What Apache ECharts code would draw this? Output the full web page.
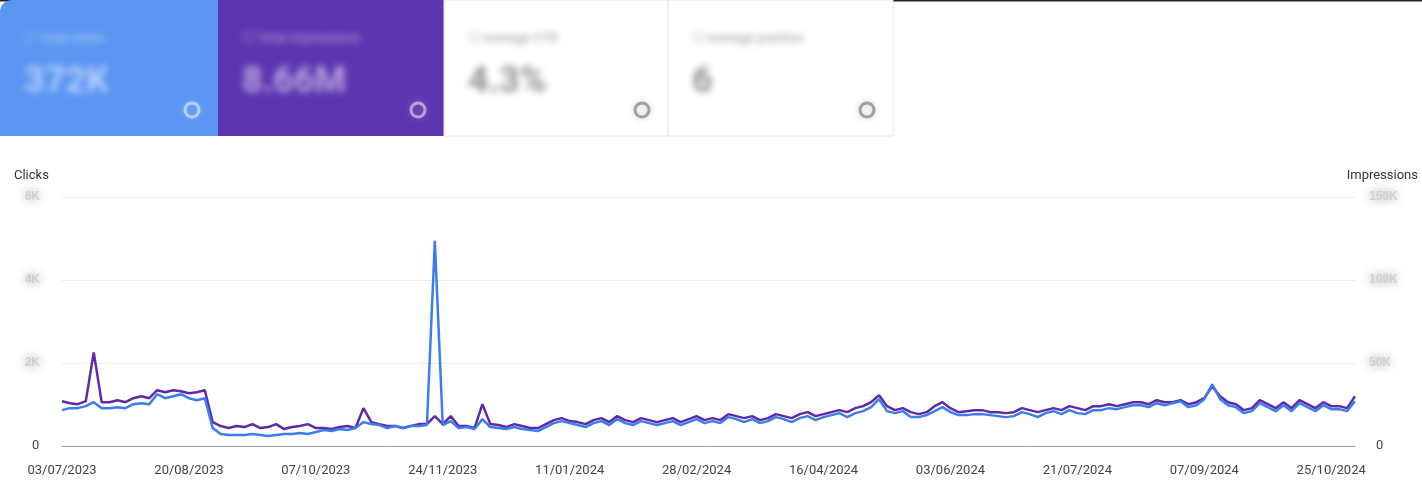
<!DOCTYPE html>
<html><head><meta charset="utf-8">
<script src="https://cdn.jsdelivr.net/npm/echarts@6/dist/echarts.min.js"></script>
<style>html,body{margin:0;padding:0;background:#fff}
#wrap{position:relative;width:1422px;height:488px}
#c{width:1422px;height:488px}
.ct{position:absolute;font-family:Roboto,sans-serif;filter:blur(3.5px);pointer-events:none}
.ct .t{font-size:13px}
.ct .v{font-size:36px;font-weight:bold;margin-top:14px}
</style>
</head><body><div id="wrap"><div id="c"></div></div>
<script>
// one point every 3 days starting 03/07/2023
const startDate = [2023, 6, 3];
const stepDays = 3;
const clicks = [864,912,912,960,1056,
912,912,936,912,1008,1032,1008,1248,1152,1200,1248,1152,1104,1152,
432,288,264,264,264,288,264,240,264,288,288,312,288,336,384,360,408,384,432,
576,
528,504,432,480,432,480,480,504,
4944,
504,600,432,456,408,648,456,432,408,456,408,384,360,
456,552,600,552,504,456,552,600,504,648,552,504,600,552,504,
552,600,504,576,648,552,600,552,696,648,576,648,552,600,696,
648,576,672,720,624,696,744,792,696,792,840,936,
1128,
840,792,840,696,696,744,840,936,816,744,744,768,
768,744,720,696,720,816,768,696,792,840,768,864,792,768,864,
864,912,888,936,984,984,936,1032,984,1032,1080,936,984,1128,1488,
1128,984,936,792,840,1032,936,840,984,840,1032,936,840,984,888,888,840,1080];
const impressionsK = [27,25.8,25.2,27,56.4,
26.4,26.4,27.6,26.4,28.8,30,28.8,33.6,32.4,33.6,33,31.8,32.4,33.6,
14.4,12,10.8,12,11.4,13.2,10.8,11.4,13.2,10.2,11.4,12,13.2,10.8,10.8,10.2,11.4,12,10.8,
22.8,
14.4,13.2,12,12,10.8,12,13.2,13.2,
18,
13.2,18,12,12,10.8,25.2,13.2,12.6,11.4,13.2,12,10.8,10.8,
13.2,15.6,16.8,15,14.4,13.2,15.6,16.8,14.4,18,15.6,14.4,16.8,15.6,14.4,
15.6,16.8,14.4,16.2,18,15.6,16.8,15.6,19.2,18,16.8,18,15.6,16.8,19.2,
18,16.8,19.2,20.4,18,19.2,20.4,21.6,20.4,22.8,24,26.4,
30.6,
24,21.6,22.8,20.4,19.2,20.4,24,26.4,22.8,20.4,21,21.6,
21.6,20.4,20.4,19.8,20.4,22.8,21.6,20.4,21.6,22.8,21.6,24,22.8,21.6,24,
24,25.2,24,25.2,26.4,26.4,25.2,27.6,26.4,26.4,27.6,25.2,26.4,28.8,36,
30,26.4,25.2,21.6,22.8,27.6,25.2,22.8,26.4,22.8,27.6,25.2,22.8,26.4,24,24,22.8,30];
const clickTicks = ['0','2K','4K','6K'];
const imprTicks = ['0','50K','100K','150K'];
const cards = [
  {title:'Total clicks', value:'372K'},
  {title:'Total impressions', value:'8.66M'},
  {title:'Average CTR', value:'4.3%'},
  {title:'Average position', value:'6'}
];

const pad = n => (n<10?'0':'')+n;
const dates = clicks.map((_, i) => {
  const d = new Date(startDate[0], startDate[1], startDate[2] + i*stepDays);
  return pad(d.getDate())+'/'+pad(d.getMonth()+1)+'/'+d.getFullYear();
});

const cardX = [0,218,444,668], cardW = [218,226,224,225];
const cardBg = ['#5b96f3','#5e35b1','#ffffff','#ffffff'];
const graphic = [
  {type:'rect', shape:{x:0,y:0,width:1422,height:1.5}, style:{fill:'#222'}}
];
const wrap = document.getElementById('wrap');
cards.forEach((c,k)=>{
  const light = k<2;
  graphic.push({type:'rect', shape:{x:cardX[k],y:0,width:cardW[k],height:136, r:k===0?[12,0,0,0]:0},
    style:{fill:cardBg[k], stroke: light?null:'#e6e6e6', lineWidth:1}});
  const sh = light ? 'rgba(255,255,255,0.5)' : 'rgba(110,110,110,0.6)';
  graphic.push({type:'circle', shape:{cx:cardX[k]+cardW[k]-26, cy:110, r:7}, style:{fill:'none', stroke:sh, lineWidth:3, shadowColor:sh, shadowBlur:6}});
  const d = document.createElement('div');
  d.className='ct';
  d.style.left=(cardX[k]+24)+'px'; d.style.top='30px';
  d.style.color = light ? 'rgba(255,255,255,0.55)' : 'rgba(100,100,100,0.7)';
  d.innerHTML = '<div class="t">☐ '+c.title+'</div><div class="v">'+c.value+'</div>';
  wrap.appendChild(d);
});
graphic.push({type:'text', left:14, top:169, style:{text:'Clicks', fill:'#333', font:'13px Roboto'}});
graphic.push({type:'text', right:4, top:169, style:{text:'Impressions', fill:'#333', font:'13px Roboto'}});
graphic.push({type:'text', left:32, top:439, style:{text:'0', fill:'#444', font:'13px Roboto'}});
graphic.push({type:'text', left:1376, top:439, style:{text:'0', fill:'#444', font:'13px Roboto'}});

const blurLabel = (ticks, step) => ({
  color:'rgba(205,205,205,0.9)', fontSize:12, fontWeight:'bold', textShadowColor:'rgba(130,130,130,0.9)', textShadowBlur:10,
  formatter: v => { const idx = Math.round(v/step); return idx===0 ? '' : ticks[idx]; }
});

const chart = echarts.init(document.getElementById('c'));
chart.setOption({
  animation:false,
  graphic,
  grid:{left:62, right:67, top:197, bottom:42},
  xAxis:{type:'category', data:dates, boundaryGap:false,
    axisLine:{lineStyle:{color:'#9e9e9e'}}, axisTick:{show:false},
    axisLabel:{interval:15, color:'#444', fontSize:13, fontFamily:'Roboto', margin:18}},
  yAxis:[
    {type:'value', min:0, max:6000, interval:2000, position:'left',
     axisLabel:Object.assign(blurLabel(clickTicks,2000),{margin:22}),
     splitLine:{lineStyle:{color:'#ececec'}}},
    {type:'value', min:0, max:150, interval:50, position:'right',
     axisLabel:Object.assign(blurLabel(imprTicks,50),{margin:14}),
     splitLine:{show:false}}
  ],
  series:[
    {name:'Impressions', type:'line', yAxisIndex:1, data:impressionsK, symbol:'none',
     lineStyle:{color:'#5e2aa8', width:2.5}},
    {name:'Clicks', type:'line', yAxisIndex:0, data:clicks, symbol:'none',
     lineStyle:{color:'#3b7ded', width:2.5}}
  ]
});
</script></body></html>
